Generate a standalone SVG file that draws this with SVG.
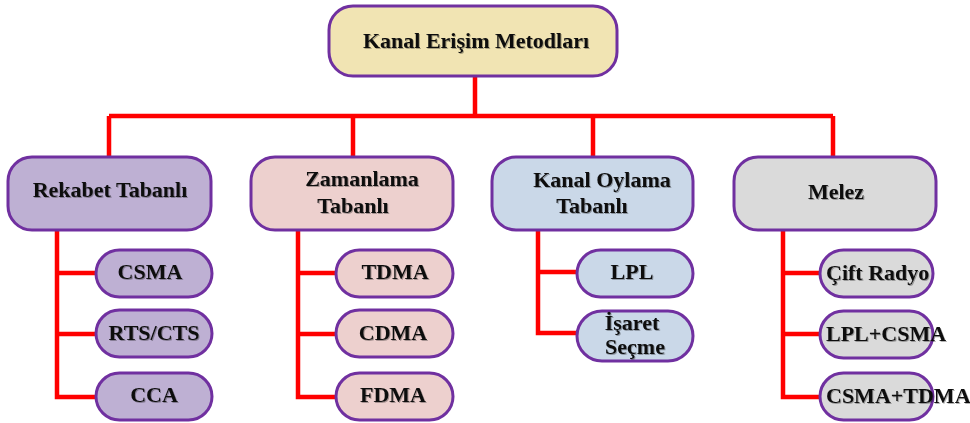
<svg xmlns="http://www.w3.org/2000/svg" width="970" height="423" viewBox="0 0 970 423">
  <defs>
    <filter id="shade" x="-5%" y="-20%" width="110%" height="140%">
      <feGaussianBlur in="SourceAlpha" stdDeviation="0.6" result="b"/>
      <feOffset in="b" dx="1" dy="1" result="o"/>
      <feFlood flood-color="#000" flood-opacity="0.3"/>
      <feComposite in2="o" operator="in" result="s"/>
      <feMerge><feMergeNode in="s"/><feMergeNode in="SourceGraphic"/></feMerge>
    </filter>
  </defs>
  <style>
    .box { stroke: #7030A0; stroke-width: 3; }
    .root { fill: #F1E4B3; }
    .rek { fill: #BEB0D3; }
    .zam { fill: #EDD0CE; }
    .kan { fill: #CAD8E8; }
    .mel { fill: #DADADA; }
    .wire { fill: none; stroke: #FF0000; stroke-width: 4.5; stroke-linejoin: miter; }
    text { font-family: "Liberation Serif", "Times New Roman", serif; font-weight: bold; font-size: 22px; fill: #111111; filter: url(#shade); }
    .c { text-anchor: middle; }
  </style>

  <rect width="970" height="423" fill="#FFFFFF"/>

  <!-- connectors -->
  <g id="connectors">
    <path class="wire" d="M475 76 V116 M109 116 H833 M109 116 V157 M353 116 V157 M593 116 V157 M833 116 V157"/>
    <path class="wire" d="M57 230 V397 H96 M57 273 H96 M57 334 H96"/>
    <path class="wire" d="M298 230 V397 H336 M298 273 H336 M298 334 H336"/>
    <path class="wire" d="M538 230 V333 H577 M538 272 H577"/>
    <path class="wire" d="M783 230 V397 H820 M783 273 H820 M783 334 H820"/>
  </g>

  <!-- root -->
  <g id="root">
    <rect class="box root" x="329" y="6" width="288" height="70" rx="24"/>
    <text class="c" x="476" y="48" font-size="23">Kanal Erişim Metodları</text>
  </g>

  <!-- first level -->
  <g id="rekabet">
    <rect class="box rek" x="8" y="157" width="203" height="73" rx="24"/>
    <text class="c" x="110" y="197">Rekabet Tabanlı</text>
  </g>
  <g id="zamanlama">
    <rect class="box zam" x="251" y="157" width="202" height="73" rx="24"/>
    <text class="c" x="362" y="186">Zamanlama</text>
    <text class="c" x="353" y="213">Tabanlı</text>
  </g>
  <g id="kanal-oylama">
    <rect class="box kan" x="492" y="157" width="201" height="73" rx="24"/>
    <text class="c" x="602" y="187">Kanal Oylama</text>
    <text class="c" x="592" y="213">Tabanlı</text>
  </g>
  <g id="melez">
    <rect class="box mel" x="734" y="157" width="202" height="73" rx="24"/>
    <text class="c" x="836" y="199" font-size="26">Melez</text>
  </g>

  <!-- Rekabet children -->
  <g id="csma">
    <rect class="box rek" x="96" y="250" width="116" height="47" rx="23.5"/>
    <text class="c" x="150" y="279">CSMA</text>
  </g>
  <g id="rts-cts">
    <rect class="box rek" x="96" y="310" width="116" height="47" rx="23.5"/>
    <text class="c" x="154" y="340">RTS/CTS</text>
  </g>
  <g id="cca">
    <rect class="box rek" x="96" y="373" width="116" height="47" rx="23.5"/>
    <text class="c" x="154" y="402">CCA</text>
  </g>

  <!-- Zamanlama children -->
  <g id="tdma">
    <rect class="box zam" x="336" y="250" width="117" height="47" rx="23.5"/>
    <text class="c" x="395" y="279">TDMA</text>
  </g>
  <g id="cdma">
    <rect class="box zam" x="336" y="310" width="117" height="47" rx="23.5"/>
    <text class="c" x="393" y="340">CDMA</text>
  </g>
  <g id="fdma">
    <rect class="box zam" x="336" y="373" width="117" height="47" rx="23.5"/>
    <text class="c" x="393" y="402">FDMA</text>
  </g>

  <!-- Kanal Oylama children -->
  <g id="lpl">
    <rect class="box kan" x="577" y="250" width="116" height="47" rx="23.5"/>
    <text class="c" x="632" y="279">LPL</text>
  </g>
  <g id="isaret-secme">
    <rect class="box kan" x="577" y="311" width="116" height="50" rx="25"/>
    <text class="c" x="632" y="330">İşaret</text>
    <text class="c" x="635" y="354">Seçme</text>
  </g>

  <!-- Melez children -->
  <g id="cift-radyo">
    <rect class="box mel" x="820" y="250" width="113" height="47" rx="23.5"/>
    <text x="826" y="280">Çift Radyo</text>
  </g>
  <g id="lpl-csma">
    <rect class="box mel" x="820" y="311" width="113" height="47" rx="23.5"/>
    <text x="826" y="341">LPL+CSMA</text>
  </g>
  <g id="csma-tdma">
    <rect class="box mel" x="820" y="373" width="113" height="47" rx="23.5"/>
    <text x="826" y="403">CSMA+TDMA</text>
  </g>
</svg>
